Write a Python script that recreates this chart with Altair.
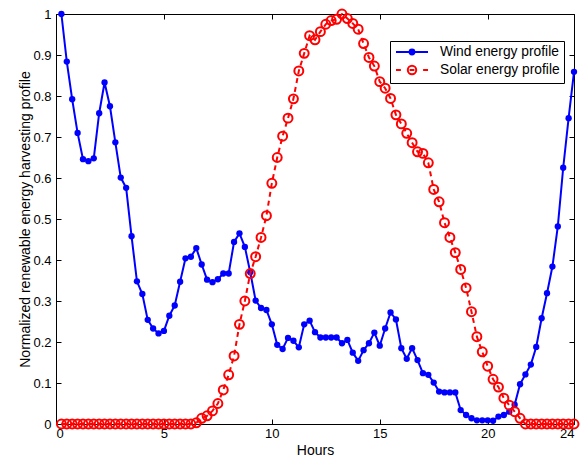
import altair as alt
import pandas as pd

# Quarter-hour sampling over one day
hours = [
    0.25, 0.5, 0.75, 1.0, 1.25, 1.5, 1.75, 2.0, 2.25, 2.5, 2.75, 3.0,
    3.25, 3.5, 3.75, 4.0, 4.25, 4.5, 4.75, 5.0, 5.25, 5.5, 5.75, 6.0,
    6.25, 6.5, 6.75, 7.0, 7.25, 7.5, 7.75, 8.0, 8.25, 8.5, 8.75, 9.0,
    9.25, 9.5, 9.75, 10.0, 10.25, 10.5, 10.75, 11.0, 11.25, 11.5, 11.75, 12.0,
    12.25, 12.5, 12.75, 13.0, 13.25, 13.5, 13.75, 14.0, 14.25, 14.5, 14.75, 15.0,
    15.25, 15.5, 15.75, 16.0, 16.25, 16.5, 16.75, 17.0, 17.25, 17.5, 17.75, 18.0,
    18.25, 18.5, 18.75, 19.0, 19.25, 19.5, 19.75, 20.0, 20.25, 20.5, 20.75, 21.0,
    21.25, 21.5, 21.75, 22.0, 22.25, 22.5, 22.75, 23.0, 23.25, 23.5, 23.75, 24.0,
]

wind = [
    1.000, 0.884, 0.792, 0.710, 0.646, 0.641, 0.648, 0.758, 0.833, 0.775, 0.687, 0.601,
    0.576, 0.458, 0.348, 0.317, 0.254, 0.233, 0.221, 0.227, 0.264, 0.289, 0.347, 0.404,
    0.408, 0.429, 0.389, 0.352, 0.346, 0.353, 0.367, 0.367, 0.444, 0.465, 0.432, 0.370,
    0.301, 0.283, 0.278, 0.243, 0.193, 0.183, 0.210, 0.203, 0.187, 0.243, 0.252, 0.224,
    0.211, 0.211, 0.211, 0.211, 0.197, 0.205, 0.174, 0.154, 0.180, 0.197, 0.223, 0.191,
    0.233, 0.272, 0.255, 0.185, 0.159, 0.185, 0.156, 0.124, 0.120, 0.101, 0.079, 0.077,
    0.077, 0.077, 0.034, 0.022, 0.014, 0.009, 0.009, 0.009, 0.008, 0.018, 0.022, 0.030,
    0.047, 0.097, 0.121, 0.145, 0.188, 0.258, 0.319, 0.384, 0.482, 0.625, 0.746, 0.859,
]

solar = [
    0.0, 0.0, 0.0, 0.0, 0.0, 0.0, 0.0, 0.0, 0.0, 0.0, 0.0, 0.0,
    0.0, 0.0, 0.0, 0.0, 0.0, 0.0, 0.0, 0.0, 0.0, 0.0, 0.0, 0.0,
    0.0, 0.003, 0.014, 0.020, 0.032, 0.050, 0.083, 0.120, 0.166, 0.243, 0.300, 0.367,
    0.408, 0.455, 0.508, 0.587, 0.650, 0.702, 0.746, 0.793, 0.861, 0.904, 0.947, 0.937,
    0.957, 0.975, 0.984, 0.987, 1.000, 0.989, 0.977, 0.963, 0.928, 0.894, 0.873, 0.835,
    0.819, 0.794, 0.754, 0.732, 0.709, 0.686, 0.664, 0.660, 0.637, 0.572, 0.542, 0.491,
    0.455, 0.418, 0.377, 0.332, 0.274, 0.213, 0.176, 0.141, 0.109, 0.090, 0.063, 0.046,
    0.030, 0.014, 0.0, 0.0, 0.0, 0.0, 0.0, 0.0, 0.0, 0.0, 0.0, 0.0,
]

x_ticks = [0, 5, 10, 15, 20, 24]
y_ticks = [0, 0.1, 0.2, 0.3, 0.4, 0.5, 0.6, 0.7, 0.8, 0.9, 1]

series_names = ["Wind energy profile", "Solar energy profile"]
BLUE = "#0000ff"
RED = "#ff0000"
FONT = "Liberation Sans"

df = pd.DataFrame({"hour": hours, "wind": wind, "solar": solar})
legend_df = pd.DataFrame({"series": series_names})

x_scale = alt.Scale(domain=[0, 24], nice=False, zero=False)
y_scale = alt.Scale(domain=[0, 1], nice=False, zero=False)

text_style = dict(
    labelFont=FONT, labelFontSize=13, labelColor="black",
    titleFont=FONT, titleFontSize=14, titleColor="black", titleFontWeight="normal",
)

# Labelled axes (left / bottom) without ticks
x_main = alt.Axis(orient="bottom", values=x_ticks, format="~g", title="Hours",
                  ticks=False, tickSize=0, domain=False, grid=False,
                  labelPadding=3, titlePadding=3, **text_style)
y_main = alt.Axis(orient="left", values=y_ticks, format="~g",
                  title="Normalized renewable energy harvesting profile",
                  ticks=False, tickSize=0, domain=False, grid=False,
                  labelPadding=5, titlePadding=0, **text_style)

# Inward-pointing tick marks on all four sides of the box
def tick_axis(orient, values):
    return alt.Axis(orient=orient, values=values, offset=-5, ticks=True, tickSize=5,
                    tickColor="black", tickWidth=1, labels=False, domain=False,
                    grid=False, title=None)

base = alt.Chart(df)

wind_line = base.mark_line(color=BLUE, strokeWidth=2).encode(
    x=alt.X("hour:Q", scale=x_scale, axis=x_main),
    y=alt.Y("wind:Q", scale=y_scale, axis=y_main),
)

wind_points = base.mark_point(filled=True, shape="circle", size=40, color=BLUE, opacity=1).encode(
    x=alt.X("hour:Q", scale=x_scale, axis=tick_axis("bottom", x_ticks)),
    y=alt.Y("wind:Q", scale=y_scale, axis=tick_axis("left", y_ticks)),
)

solar_line = base.mark_line(color=RED, strokeWidth=2, strokeDash=[5, 4]).encode(
    x=alt.X("hour:Q", scale=x_scale, axis=tick_axis("top", x_ticks)),
    y=alt.Y("solar:Q", scale=y_scale, axis=tick_axis("right", y_ticks)),
)

solar_points = base.mark_point(filled=False, shape="circle", size=80, strokeWidth=2,
                               color=RED, opacity=1).encode(
    x=alt.X("hour:Q", scale=x_scale, axis=None),
    y=alt.Y("solar:Q", scale=y_scale, axis=None),
)

# Legend glyphs: line with marker (solid + dot, dashed + circle)
wind_glyph = "M-2.67,0H2.67M0.4,0A0.4,0.4,0,1,1,-0.4,0A0.4,0.4,0,1,1,0.4,0Z"
solar_glyph = ("M-2.67,0H-1.85M1.85,0H2.67M-0.4,0H0.4"
               "M0.7,0A0.7,0.7,0,1,1,-0.7,0A0.7,0.7,0,1,1,0.7,0Z")

legend = alt.Legend(
    title=None, orient="none", legendX=334, legendY=27, direction="vertical",
    padding=4, strokeColor="black", fillColor="white", cornerRadius=0,
    symbolSize=144, symbolStrokeWidth=2, symbolOpacity=1,
    symbolOffset=11, labelOffset=21, rowPadding=2,
    labelFont=FONT, labelFontSize=13.8, labelColor="black", labelLimit=300,
)

legend_layer = alt.Chart(legend_df).mark_point(filled=False, strokeWidth=2, opacity=1).encode(
    color=alt.Color("series:N", scale=alt.Scale(domain=series_names, range=[BLUE, RED]),
                    legend=legend),
    fill=alt.Fill("series:N", scale=alt.Scale(domain=series_names, range=[BLUE, "transparent"]),
                  legend=legend),
    shape=alt.Shape("series:N", scale=alt.Scale(domain=series_names, range=[wind_glyph, solar_glyph]),
                    legend=legend),
).transform_filter("false")

chart = (
    alt.layer(wind_line, wind_points, solar_line, solar_points, legend_layer)
    .resolve_axis(x="independent", y="independent")
    .properties(
        width=518, height=410,
        autosize=alt.AutoSizeParams(type="none"),
        padding={"left": 56, "top": 14, "right": 8, "bottom": 36},
        background="white",
    )
    .configure_view(stroke="black", strokeWidth=1)
)

chart.save("out.html", embed_options={"renderer": "svg", "actions": False})
